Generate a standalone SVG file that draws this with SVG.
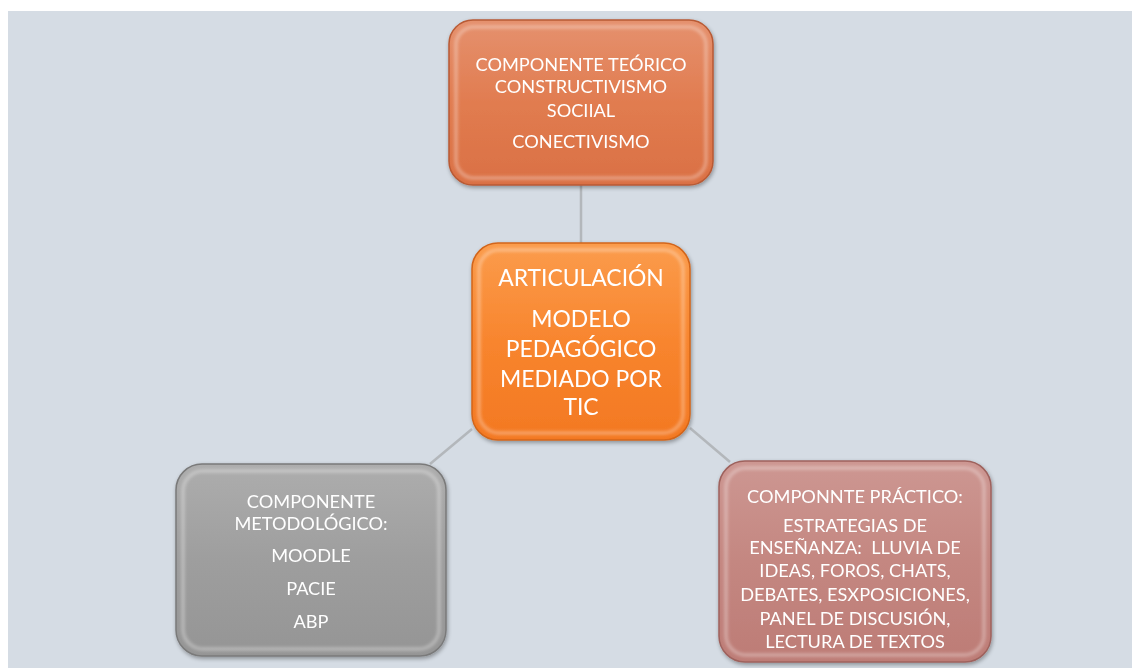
<svg xmlns="http://www.w3.org/2000/svg" width="1132" height="668" viewBox="0 0 1132 668">
<style>
.t{font-family:Lato,"Open Sans","Liberation Sans",sans-serif;fill:#ffffff;text-anchor:middle}
.s16{font-size:18.2px}
.s22{font-size:22.9px}
.conn{stroke:#b3b7bb;stroke-width:2.5;fill:none}
.bevel{fill:none;stroke:#ffffff;stroke-opacity:0.28;stroke-width:4;filter:url(#soft)}
.rim{fill:none;stroke-width:1.5}
</style>
<defs>
<filter id="soft" x="-10%" y="-10%" width="120%" height="120%"><feGaussianBlur stdDeviation="1.5"/></filter>
<filter id="shadow" x="-10%" y="-10%" width="125%" height="125%"><feGaussianBlur in="SourceAlpha" stdDeviation="2"/><feOffset dx="1" dy="2"/><feComponentTransfer><feFuncA type="linear" slope="0.35"/></feComponentTransfer><feMerge><feMergeNode/><feMergeNode in="SourceGraphic"/></feMerge></filter>
<linearGradient id="gTop" x1="0" y1="0" x2="0" y2="1"><stop offset="0" stop-color="#e5916e"/><stop offset="0.5" stop-color="#e17c50"/><stop offset="1" stop-color="#da7044"/></linearGradient>
<linearGradient id="gMid" x1="0" y1="0" x2="0" y2="1"><stop offset="0" stop-color="#fb9c4c"/><stop offset="0.5" stop-color="#f8852e"/><stop offset="1" stop-color="#f37822"/></linearGradient>
<linearGradient id="gGray" x1="0" y1="0" x2="0" y2="1"><stop offset="0" stop-color="#adadad"/><stop offset="0.5" stop-color="#9e9e9e"/><stop offset="1" stop-color="#959595"/></linearGradient>
<linearGradient id="gRose" x1="0" y1="0" x2="0" y2="1"><stop offset="0" stop-color="#cd9792"/><stop offset="0.5" stop-color="#c48781"/><stop offset="1" stop-color="#bd7c76"/></linearGradient>
</defs>
<rect x="0" y="0" width="1132" height="668" fill="#ffffff"/>
<rect x="8" y="11" width="1124" height="657" fill="#d5dce4"/>
<g id="connectors">
<line class="conn" x1="581" y1="185" x2="581" y2="243"/>
<line class="conn" x1="472" y1="429" x2="430" y2="464"/>
<line class="conn" x1="690" y1="428" x2="730" y2="462"/>
</g>
<g id="node-teorico" filter="url(#shadow)">
<rect x="449" y="20" width="264" height="165" rx="24" fill="url(#gTop)"/>
<rect class="rim" x="449" y="20" width="264" height="165" rx="24" stroke="#b85a34"/>
<rect class="bevel" x="456" y="27" width="250" height="151" rx="18"/>
<text class="t s16" x="581" y="71">COMPONENTE TEÓRICO</text>
<text class="t s16" x="581" y="93">CONSTRUCTIVISMO</text>
<text class="t s16" x="581" y="117">SOCIIAL</text>
<text class="t s16" x="581" y="148">CONECTIVISMO</text>
</g>
<g id="node-articulacion" filter="url(#shadow)">
<rect x="472" y="243" width="218" height="197" rx="26" fill="url(#gMid)"/>
<rect class="rim" x="472" y="243" width="218" height="197" rx="26" stroke="#d2651a"/>
<rect class="bevel" x="479" y="250" width="204" height="183" rx="20"/>
<text class="t s22" x="581" y="286">ARTICULACIÓN</text>
<text class="t s22" x="581" y="327">MODELO</text>
<text class="t s22" x="581" y="357">PEDAGÓGICO</text>
<text class="t s22" x="581" y="387">MEDIADO POR</text>
<text class="t s22" x="581" y="415">TIC</text>
</g>
<g id="node-metodologico" filter="url(#shadow)">
<rect x="176" y="464" width="270" height="192" rx="26" fill="url(#gGray)"/>
<rect class="rim" x="176" y="464" width="270" height="192" rx="26" stroke="#7a7a7a"/>
<rect class="bevel" x="183" y="471" width="256" height="178" rx="20"/>
<text class="t s16" x="311" y="508">COMPONENTE</text>
<text class="t s16" x="311" y="530">METODOLÓGICO:</text>
<text class="t s16" x="311" y="562">MOODLE</text>
<text class="t s16" x="311" y="595">PACIE</text>
<text class="t s16" x="311" y="628">ABP</text>
</g>
<g id="node-practico" filter="url(#shadow)">
<rect x="719" y="461" width="272" height="201" rx="26" fill="url(#gRose)"/>
<rect class="rim" x="719" y="461" width="272" height="201" rx="26" stroke="#9e625d"/>
<rect class="bevel" x="726" y="468" width="258" height="187" rx="20"/>
<text class="t s16" x="855" y="503">COMPONNTE PRÁCTICO:</text>
<text class="t s16" x="855" y="532">ESTRATEGIAS DE</text>
<text class="t s16" x="855" y="554" xml:space="preserve">ENSEÑANZA:  LLUVIA DE</text>
<text class="t s16" x="855" y="577">IDEAS, FOROS, CHATS,</text>
<text class="t s16" x="855" y="601">DEBATES, ESXPOSICIONES,</text>
<text class="t s16" x="855" y="625">PANEL DE DISCUSIÓN,</text>
<text class="t s16" x="855" y="648">LECTURA DE TEXTOS</text>
</g>
</svg>
